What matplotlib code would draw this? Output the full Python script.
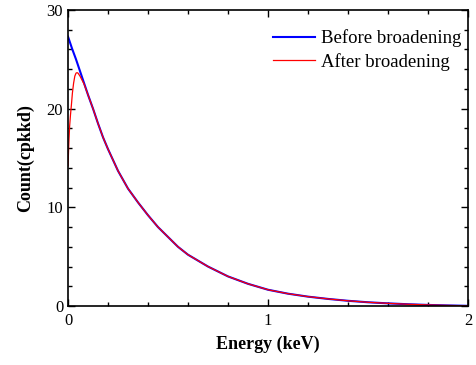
import numpy as np
import matplotlib.pyplot as plt
from matplotlib.ticker import MultipleLocator

# values
energy_before = [0, 0.02, 0.04, 0.06, 0.08, 0.10, 0.125, 0.15, 0.175, 0.20, 0.225, 0.25,
                 0.30, 0.35, 0.40, 0.45, 0.50, 0.55, 0.60, 0.70, 0.80, 0.90, 1.00,
                 1.10, 1.20, 1.30, 1.40, 1.50, 1.60, 1.70, 1.80, 1.90, 2.00]
count_before = [27.3, 26.1, 25.0, 23.8, 22.6, 21.4, 20.0, 18.5, 17.1, 15.9, 14.8, 13.7,
                11.9, 10.5, 9.2, 8.0, 7.0, 6.0, 5.2, 4.0, 3.0, 2.25, 1.65,
                1.25, 0.95, 0.72, 0.53, 0.38, 0.27, 0.18, 0.11, 0.06, 0.02]

energy_after = [0, 0.004, 0.008, 0.012, 0.017, 0.022, 0.028, 0.034, 0.04, 0.045, 0.05, 0.06,
                0.07, 0.08, 0.10, 0.125, 0.15, 0.175, 0.20, 0.225, 0.25,
                0.30, 0.35, 0.40, 0.45, 0.50, 0.55, 0.60, 0.70, 0.80, 0.90, 1.00,
                1.10, 1.20, 1.30, 1.40, 1.50, 1.60, 1.70, 1.80, 1.90, 2.00]
count_after = [14.2, 16.5, 18.2, 19.3, 20.4, 21.6, 22.6, 23.3, 23.6, 23.65, 23.6, 23.3,
               22.9, 22.5, 21.4, 20.0, 18.5, 17.1, 15.9, 14.8, 13.7,
               11.9, 10.5, 9.2, 8.0, 7.0, 6.0, 5.2, 4.0, 3.0, 2.25, 1.65,
               1.25, 0.95, 0.72, 0.53, 0.38, 0.27, 0.18, 0.11, 0.06, 0.02]

plt.rcParams['font.family'] = ['Liberation Serif', 'DejaVu Serif']

fig = plt.figure(figsize=(4.77, 3.65), dpi=100)
ax = fig.add_axes([0.1426, 0.1616, 0.8384, 0.811])

ax.plot(energy_before, count_before, color='blue', lw=1.5, label='Before broadening')
ax.plot(energy_after, count_after, color='red', lw=0.9, label='After broadening')

ax.set_xlim(0, 2)
ax.set_ylim(0, 30)
ax.xaxis.set_major_locator(MultipleLocator(1))
ax.xaxis.set_minor_locator(MultipleLocator(0.2))
ax.yaxis.set_major_locator(MultipleLocator(10))
ax.yaxis.set_minor_locator(MultipleLocator(2))
ax.tick_params(which='both', direction='in', top=True, right=True, labelsize=12, width=1)
ax.tick_params(which='major', length=5)
ax.tick_params(which='minor', length=3)
ax.tick_params(axis='x', pad=5)
for s in ax.spines.values():
    s.set_linewidth(1.2)

ax.set_xlabel('Energy (keV)', fontsize=13, fontweight='bold', labelpad=5)
ax.set_ylabel('Count(cpkkd)', fontsize=13, fontweight='bold', labelpad=9)

ax.legend(loc='upper right', bbox_to_anchor=(0.9825, 0.935), frameon=False, fontsize=13.5,
          handlelength=2.25, handletextpad=0.3, labelspacing=0.3,
          borderpad=0, borderaxespad=0)

plt.savefig('out.png', dpi=100)
